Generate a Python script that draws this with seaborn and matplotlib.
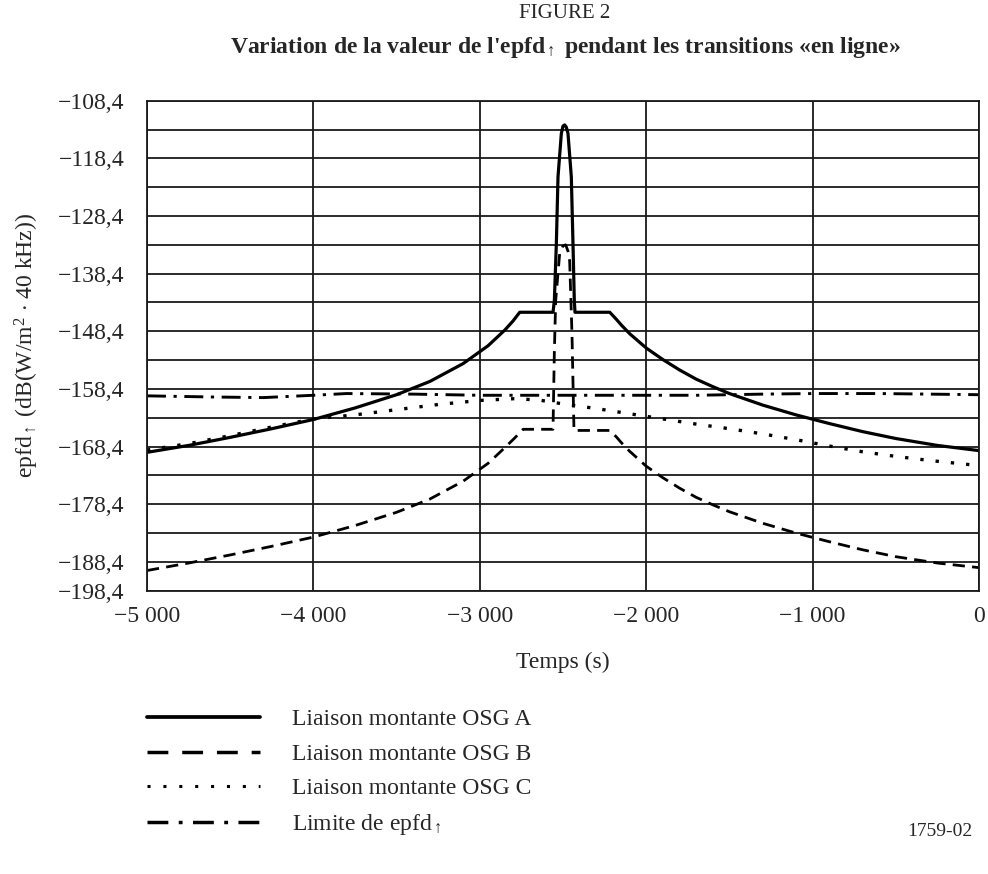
import numpy as np
import pandas as pd
import matplotlib
matplotlib.use('Agg')
import matplotlib.pyplot as plt
import seaborn as sns
from matplotlib.lines import Line2D

# ---------------- data ----------------
time_a = [-5000, -4750, -4500, -4250, -4000, -3750, -3500, -3300, -3100, -2950,
          -2850, -2800, -2760, -2560, -2552, -2540, -2530, -2510, -2500, -2490, -2480,
          -2470, -2450, -2440, -2432, -2428, -2219, -2180, -2150, -2100, -2000, -1900,
          -1800, -1700, -1600, -1500, -1300, -1100, -900, -700, -500, -250, 0]
epfd_a = [-169.4, -168.2, -166.8, -165.3, -163.7, -161.7, -159.4, -157.1, -154.0, -150.9,
          -148.2, -146.6, -145.1, -145.1, -143.1, -133.2, -121.6, -114.1, -112.8, -112.6, -113.0,
          -114.1, -121.6, -133.2, -143.1, -145.1, -145.1, -146.3, -147.3, -148.8, -151.3, -153.3,
          -155.1, -156.7, -158.0, -159.2, -161.2, -162.9, -164.4, -165.8, -167.0, -168.2, -169.1]

time_b = [-5000, -4750, -4500, -4250, -4000, -3750, -3500, -3300, -3100, -2950,
          -2850, -2790, -2740, -2560, -2552, -2544, -2520, -2500, -2484, -2470, -2460,
          -2446, -2434, -2219, -2180, -2150, -2100, -2000, -1900, -1800, -1700, -1600,
          -1500, -1300, -1100, -900, -700, -500, -250, 0]
epfd_b = [-189.9, -188.6, -187.2, -185.7, -184.1, -182.1, -179.8, -177.5, -174.4, -171.3,
          -168.6, -166.9, -165.4, -165.4, -152.0, -143.1, -134.9, -133.6, -133.4, -134.5, -136.2,
          -148.9, -165.6, -165.6, -166.7, -167.7, -169.2, -171.8, -173.8, -175.6, -177.2, -178.5,
          -179.7, -181.7, -183.4, -184.9, -186.3, -187.5, -188.6, -189.4]

time_c = [-5000, -4750, -4500, -4250, -4000, -3750, -3500, -3250, -3000, -2800,
          -2650, -2500, -2300, -2100, -1900, -1700, -1500, -1300, -1100, -900,
          -700, -500, -300, 0]
epfd_c = [-169.0, -167.9, -166.5, -165.0, -163.6, -162.9, -162.0, -161.1, -160.4, -160.1,
          -160.3, -161.0, -161.8, -162.7, -163.6, -164.5, -165.3, -166.2, -167.2, -168.3,
          -169.3, -170.1, -170.8, -171.7]

time_lim = [-5000, -4600, -4300, -4000, -3800, -3400, -3000, -2500, -2000, -1700,
            -1300, -1000, -600, -300, 0]
epfd_lim = [-159.6, -159.8, -159.9, -159.5, -159.2, -159.3, -159.5, -159.5, -159.5, -159.5,
            -159.3, -159.2, -159.2, -159.3, -159.4]

series_labels = ['Liaison montante OSG A', 'Liaison montante OSG B',
                 'Liaison montante OSG C', r'Limite de epfd$_{\uparrow}$']

x_ticks = [-5000, -4000, -3000, -2000, -1000, 0]
x_tick_labels = ['\u22125 000', '\u22124 000', '\u22123 000', '\u22122 000', '\u22121 000', '0']
y_ticks = [-108.4, -118.4, -128.4, -138.4, -148.4, -158.4, -168.4, -178.4, -188.4, -193.4]
y_tick_labels = ['\u2212108,4', '\u2212118,4', '\u2212128,4', '\u2212138,4', '\u2212148,4',
                 '\u2212158,4', '\u2212168,4', '\u2212178,4', '\u2212188,4', '\u2212198,4']
y_minor = [-113.4, -123.4, -133.4, -143.4, -153.4, -163.4, -173.4, -183.4]

# ---------------- style ----------------
sns.set_theme(style='white')
plt.rcParams['font.family'] = ['Liberation Serif', 'DejaVu Serif']
plt.rcParams['mathtext.fontset'] = 'custom'
plt.rcParams['mathtext.rm'] = 'Liberation Serif'
plt.rcParams['mathtext.it'] = 'Liberation Serif:italic'
plt.rcParams['mathtext.bf'] = 'Liberation Serif:bold'

W, H = 988, 874
fig = plt.figure(figsize=(W / 100, H / 100), dpi=100)
ax = fig.add_axes([147 / W, 1 - 590.7 / H, (979 - 147) / W, (590.7 - 100.7) / H])

ink = 'black'
sns.lineplot(x=time_a, y=epfd_a, ax=ax, color=ink, lw=2.3, estimator=None, sort=False)
sns.lineplot(x=time_b, y=epfd_b, ax=ax, color=ink, lw=2.0, estimator=None, sort=False,
             linestyle=(0, (4.4, 2.6)))
sns.lineplot(x=time_c, y=epfd_c, ax=ax, color=ink, lw=2.4, estimator=None, sort=False,
             linestyle=(0, (1, 3.6)))
sns.lineplot(x=time_lim, y=epfd_lim, ax=ax, color=ink, lw=2.1, estimator=None, sort=False,
             linestyle=(0, (6.5, 2.6, 1.1, 2.6)))

ax.set_xlim(-5000, 0)
ax.set_ylim(-193.4, -108.4)
ax.set_xticks(x_ticks)
ax.set_xticklabels(x_tick_labels, fontsize=17)
ax.set_yticks(y_ticks)
ax.set_yticklabels(y_tick_labels, fontsize=17)
ax.set_yticks(y_minor, minor=True)
ax.grid(True, which='both', color='#1a1a1a', lw=1.3)
ax.set_axisbelow(True)
ax.tick_params(axis='both', which='both', length=0)
ax.tick_params(axis='x', pad=11)
ax.tick_params(axis='y', pad=16)
for s in ax.spines.values():
    s.set_color('#1a1a1a')
    s.set_linewidth(1.3)

ax.set_xlabel('Temps (s)', fontsize=17, labelpad=18)
ax.set_ylabel(r'epfd$_{\uparrow}$ (dB(W/m$^{2}$ $\cdot$ 40 kHz))', fontsize=17)
ax.yaxis.label.set_va('center')
ax.yaxis.set_label_coords((27 - 147) / (979 - 147), 0.5)

fig.text(565 / W, 1 - 14 / H, 'FIGURE 2', ha='center', va='center', fontsize=15)
fig.text(565 / W, 1 - 48 / H,
         r"Variation de la valeur de l'epfd$_{\uparrow}$ pendant les transitions «en ligne»",
         ha='center', va='center', fontsize=17, fontweight='bold')

handles = [
    Line2D([], [], color=ink, lw=2.7),
    Line2D([], [], color=ink, lw=2.5, linestyle=(0, (6.0, 4.0))),
    Line2D([], [], color=ink, lw=2.2, linestyle=(0, (1, 4.2))),
    Line2D([], [], color=ink, lw=2.5, linestyle=(0, (6.0, 3.0, 1.1, 3.0))),
]
fig.legend(handles, series_labels, loc='upper left',
           bbox_to_anchor=(135 / W, 1 - 697 / H), frameon=False, fontsize=17,
           handlelength=4.8, handletextpad=1.35, labelspacing=0.55, borderpad=0)

fig.text(940 / W, 1 - 832 / H, '1759-02', ha='center', va='center', fontsize=14)

fig.savefig('out.png', dpi=100)
